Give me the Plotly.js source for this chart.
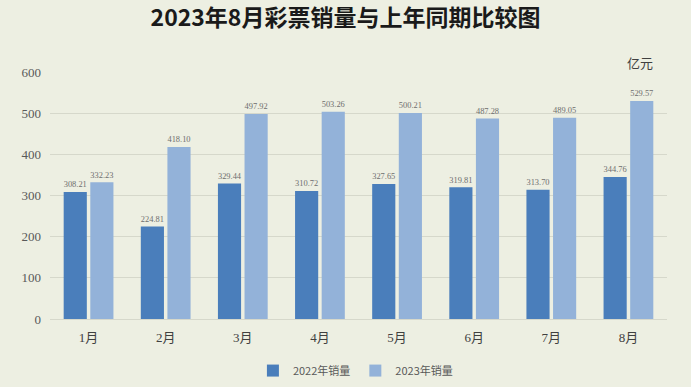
<!DOCTYPE html>
<html><head><meta charset="utf-8">
<script src="https://cdn.plot.ly/plotly-3.0.1.min.js"></script>
<style>body{margin:0;background:#edefe2;}#c{width:691px;height:387px;}</style>
</head><body><div id="c"></div>
<script>
const months = ["1月","2月","3月","4月","5月","6月","7月","8月"];
const sales2022 = [308.21,224.81,329.44,310.72,327.65,319.81,313.70,344.76];
const sales2023 = [332.23,418.10,497.92,503.26,500.21,487.28,489.05,529.57];
const labels2022 = ["308.21","224.81","329.44","310.72","327.65","319.81","313.70","344.76"];
const labels2023 = ["332.23","418.10","497.92","503.26","500.21","487.28","489.05","529.57"];
const serif = "Liberation Serif, Noto Sans CJK SC, serif";
const traces = [
 {type:"bar", name:"2022年销量", x:months, y:sales2022, text:labels2022, textposition:"outside",
  marker:{color:"#4a7ebb"}, textfont:{size:10, color:"#6e6e6e", family:serif}, cliponaxis:false},
 {type:"bar", name:"2023年销量", x:months, y:sales2023, text:labels2023, textposition:"outside",
  marker:{color:"#93b2d9"}, textfont:{size:10, color:"#6e6e6e", family:serif}, cliponaxis:false}
];
const layout = {
 width:691, height:387,
 paper_bgcolor:"#edefe2", plot_bgcolor:"#edefe2",
 margin:{l:50, r:24, t:72, b:68},
 title:{text:"<b>2023年8月彩票销量与上年同期比较图</b>", x:0.5, xanchor:"center", y:0.953, yanchor:"middle",
  font:{family:"Noto Sans CJK SC, sans-serif", size:23, color:"#1a1a1a"}},
 barmode:"group", bargap:0.31, bargroupgap:0.13,
 xaxis:{type:"category", showgrid:false, showline:true, linecolor:"#d6d8cb", ticks:"",
  tickfont:{family:serif, size:13, color:"#404040"}, ticklabelstandoff:6},
 yaxis:{range:[0,600], dtick:100, showgrid:true, gridcolor:"#d6d8cb", zeroline:false, showline:false,
  ticks:"", tickfont:{family:serif, size:13, color:"#595959"}, ticklabelstandoff:8},
 showlegend:true,
 legend:{orientation:"h", x:0.495, xanchor:"center", yref:"container", y:0.005, yanchor:"bottom",
  font:{family:"Noto Sans CJK SC, sans-serif", size:11, color:"#595959"}, itemwidth:30, traceorder:"normal"},
 annotations:[{text:"亿元", xref:"paper", yref:"paper", x:0.956, y:1.04, xanchor:"center", yanchor:"middle",
  showarrow:false, font:{family:"Noto Sans CJK SC, serif", size:13, color:"#404040"}}]
};
Plotly.newPlot("c", traces, layout, {displayModeBar:false});
</script></body></html>
